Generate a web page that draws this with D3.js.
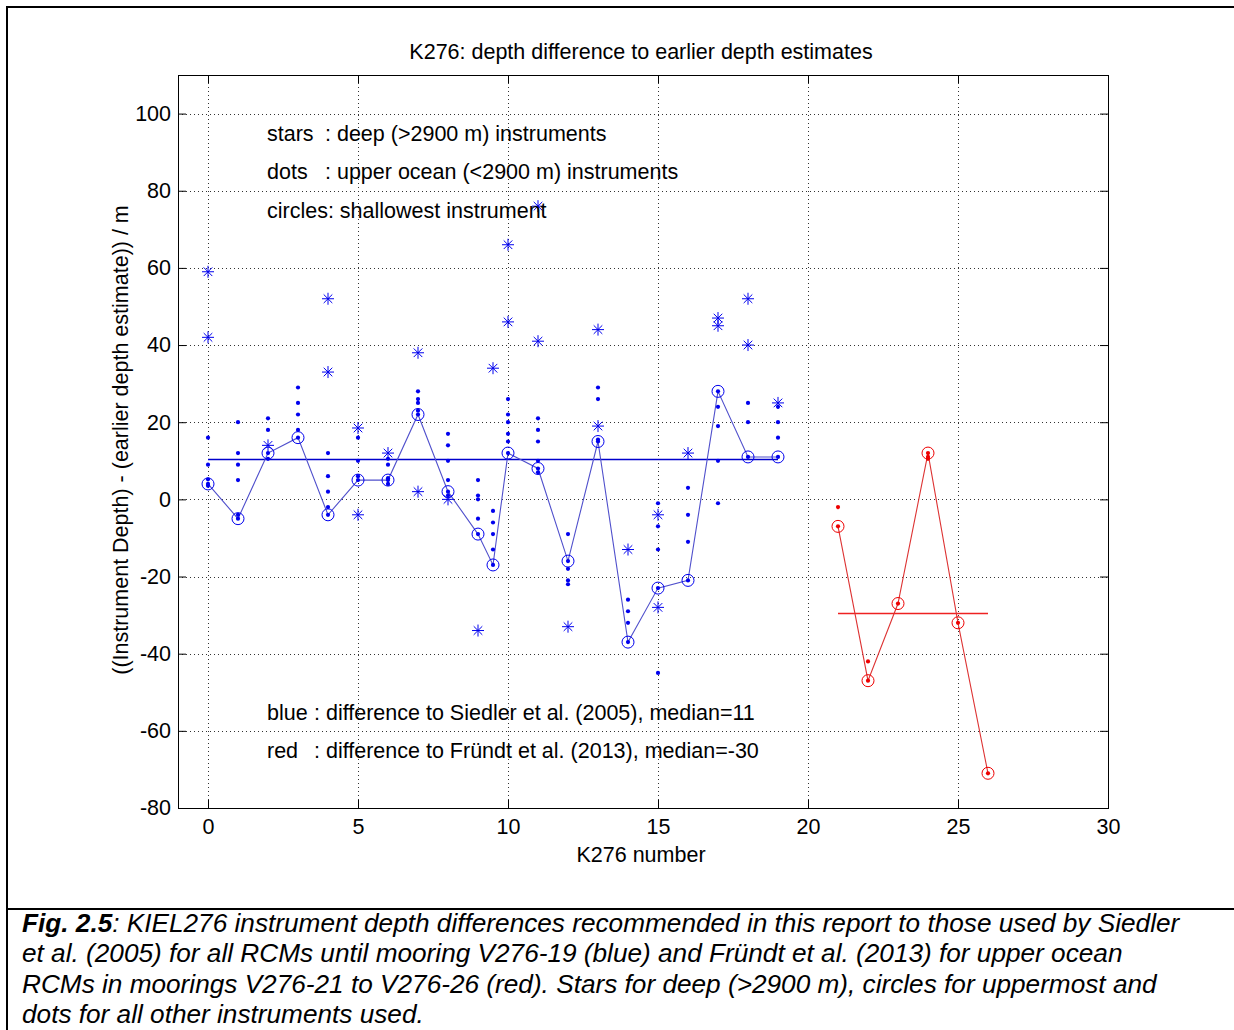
<!DOCTYPE html>
<html><head><meta charset="utf-8">
<script src="https://cdn.jsdelivr.net/npm/d3@7"></script>
<style>body{margin:0;background:#fff}svg{display:block}text{font-family:"Liberation Sans",Arial,sans-serif}</style>
</head><body>
<script>
// ---- data ----
const xTicks = [0,5,10,15,20,25,30];
const yTicks = [-80,-60,-40,-20,0,20,40,60,80,100];
const blueX = [0,1,2,3,4,5,6,7,8,9,9.5,10,11,12,13,14,15,16,17,18,19];
const blueCircles = [4,-5,12,16,-4,5,5,22,2,-9,-17,12,8,-16,15,-37,-23,-21,28,11,11];
const blueDots = [[16,9,5.2,3.5],[20,12,9,5,-4],[21,18,10.5],[29,25,22,18],[12,6,2,-2],[16,10,6],[10.5,9,5.5,4],[28,26,25,23],[17,14,10,5,1],[5,1,0,-5],[-3,-6,-9,-13],[26,22,20,17,15],[21,18,15,10,7],[-9,-18,-21,-22],[29,26,15.5],[-26,-29,-32],[-1,-7,-13,-45],[3,-4,-11],[24,19,10,-1],[25,20],[24,20,16]];
const blueStars = [[59,42],[],[14],[],[52,33],[18.5,-4],[12],[38,2],[0],[-34],[34],[66,46],[76,41],[-33],[44,19],[-13],[-4,-28],[12],[47,45],[52,40],[25]];
const blueMedian = 10.5;
const redX = [21,22,23,24,25,26];
const redCircles = [-7,-47,-27,12,-32,-71];
const redDots = [[-2],[-42],[],[11,10.5],[],[]];
const redMedian = -29.4;

const W=1234,H=1030,FS=21.5;
const svg=d3.select("body").append("svg").attr("width",W).attr("height",H);
const L=178,R=1108,T=75,B=808;
const x=d3.scaleLinear().domain([-1,30]).range([L,R]);
const y=d3.scaleLinear().domain([-80,110]).range([B,T]);

// frame
svg.append("line").attr("x1",6).attr("x2",W).attr("y1",7).attr("y2",7).attr("stroke","#000").attr("stroke-width",2);
svg.append("line").attr("x1",7).attr("x2",7).attr("y1",6).attr("y2",H).attr("stroke","#000").attr("stroke-width",2);
svg.append("line").attr("x1",6).attr("x2",W).attr("y1",909).attr("y2",909).attr("stroke","#000").attr("stroke-width",2);

// grid
const g=svg.append("g");
g.selectAll(".gx").data(xTicks).join("line").attr("x1",d=>Math.round(x(d))+0.5).attr("x2",d=>Math.round(x(d))+0.5)
 .attr("y1",T).attr("y2",B).attr("stroke","#333").attr("stroke-dasharray","1,3");
g.selectAll(".gy").data(yTicks).join("line").attr("y1",d=>Math.round(y(d))+0.5).attr("y2",d=>Math.round(y(d))+0.5)
 .attr("x1",L).attr("x2",R).attr("stroke","#333").attr("stroke-dasharray","1,3");

// axes
const fmt=d=>String(d);
const ax=svg.append("g").attr("transform",`translate(0,${B})`).call(d3.axisBottom(x).tickValues(xTicks).tickSize(-8).tickPadding(11).tickFormat(fmt));
const axT=svg.append("g").attr("transform",`translate(0,${T})`).call(d3.axisTop(x).tickValues(xTicks).tickSize(-8).tickFormat(""));
const ay=svg.append("g").attr("transform",`translate(${L},0)`).call(d3.axisLeft(y).tickValues(yTicks).tickSize(-8).tickPadding(7).tickFormat(fmt));
const ayR=svg.append("g").attr("transform",`translate(${R},0)`).call(d3.axisRight(y).tickValues(yTicks).tickSize(-8).tickFormat(""));
[ax,axT,ay,ayR].forEach(a=>{a.select(".domain").remove();a.selectAll("line").attr("stroke","#000");
 a.selectAll("text").attr("font-size",FS).attr("fill","#000").style("font-family","Liberation Sans, Arial, sans-serif");});
svg.append("rect").attr("x",L+0.5).attr("y",T+0.5).attr("width",R-L).attr("height",B-T).attr("fill","none").attr("stroke","#000");

// marker helpers
function star(sel,cx,cy,col){
  const r=6,d=4.3;
  const p=`M${cx-r},${cy}L${cx+r},${cy}M${cx},${cy-r}L${cx},${cy+r}M${cx-d},${cy-d}L${cx+d},${cy+d}M${cx-d},${cy+d}L${cx+d},${cy-d}`;
  sel.append("path").attr("d",p).attr("stroke",col).attr("stroke-width",1).attr("fill","none");
}
function drawSeries(xs,circ,dots,stars,col,lineCol,medCol,median){
  const gg=svg.append("g");
  gg.append("line").attr("x1",x(xs[0])).attr("x2",x(xs[xs.length-1])).attr("y1",Math.round(y(median))+0.5).attr("y2",Math.round(y(median))+0.5)
    .attr("stroke",medCol).attr("stroke-width",1.4);
  gg.append("path").datum(xs.map((v,i)=>[v,circ[i]])).attr("d",d3.line().x(d=>x(d[0])).y(d=>y(d[1])))
    .attr("fill","none").attr("stroke",lineCol).attr("stroke-width",1.1);
  xs.forEach((xv,i)=>{
    dots[i].forEach(v=>gg.append("circle").attr("cx",x(xv)).attr("cy",y(v)).attr("r",2.1).attr("fill",col));
    if(stars) stars[i].forEach(v=>star(gg,x(xv),y(v),col));
    gg.append("circle").attr("cx",x(xv)).attr("cy",y(circ[i])).attr("r",2.1).attr("fill",col);
    gg.append("circle").attr("cx",x(xv)).attr("cy",y(circ[i])).attr("r",6).attr("fill","none").attr("stroke",col).attr("stroke-width",1);
  });
}
drawSeries(blueX,blueCircles,blueDots,blueStars,"#0000ee","#5050cc","#0000cc",blueMedian);
drawSeries(redX,redCircles,redDots,null,"#ee0000","#dd3333","#ee2222",redMedian);

// texts
const txt=(t,xx,yy,o={})=>svg.append("text").attr("x",xx).attr("y",yy).attr("font-size",o.fs||FS)
  .attr("text-anchor",o.anchor||"start").attr("fill","#000").text(t);
txt("K276: depth difference to earlier depth estimates",641,59,{anchor:"middle"});
txt("K276 number",641,862,{anchor:"middle"});
svg.append("text").attr("transform","translate(128,440) rotate(-90)").attr("text-anchor","middle").attr("font-size",FS)
  .text("((Instrument Depth) - (earlier depth estimate)) / m");
txt("stars",267,141); txt(": deep (>2900 m) instruments",325,141);
txt("dots",267,179); txt(": upper ocean (<2900 m) instruments",325,179);
txt("circles: shallowest instrument",267,218);
txt("blue",267,720); txt(": difference to Siedler et al. (2005), median=11",314,720);
txt("red",267,758); txt(": difference to Fründt et al. (2013), median=-30",314,758);

// caption
const capLines=[
 [["Fig. 2.5",true],[": KIEL276 instrument depth differences recommended in this report to those used by Siedler",false]],
 [["et al. (2005) for all RCMs until mooring V276-19 (blue) and Fründt et al. (2013) for upper ocean",false]],
 [["RCMs in moorings V276-21 to V276-26 (red). Stars for deep (>2900 m), circles for uppermost and",false]],
 [["dots for all other instruments used.",false]]];
capLines.forEach((ln,i)=>{
  const t=svg.append("text").attr("x",22).attr("y",932+i*30.3).attr("font-size",26.2).attr("font-style","italic");
  ln.forEach(([s,b])=>t.append("tspan").attr("font-weight",b?"bold":"normal").text(s));
});
</script>
</body></html>
